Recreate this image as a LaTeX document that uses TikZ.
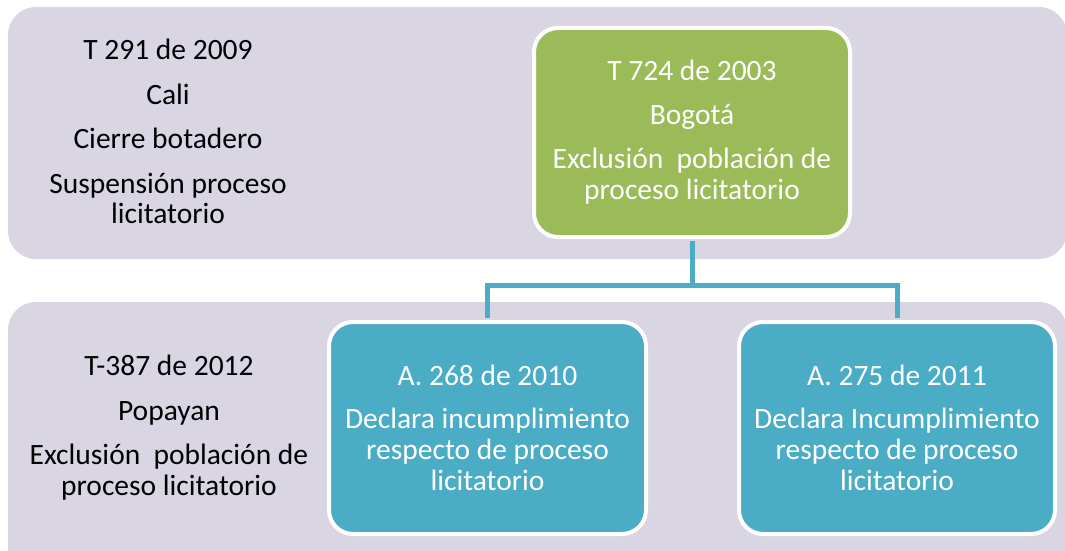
\documentclass[tikz,border=0pt]{standalone}
\usepackage{fontspec}
\setmainfont{Carlito}
\definecolor{bandgray}{HTML}{D9D5E3}
\definecolor{leaf}{HTML}{9BBB59}
\definecolor{sky}{HTML}{4BACC6}

\begin{document}
\begin{tikzpicture}[x=1pt, y=1pt,
  band/.style={fill=bandgray, rounded corners=28pt},
  box/.style={draw=white, line width=4pt, rounded corners=24pt, inner sep=0pt,
    minimum width=316pt, text=white, align=center, font=\fontsize{29.5}{31}\selectfont},
  note/.style={align=center, font=\fontsize{29.5}{30.5}\selectfont},
  link/.style={draw=sky, line width=5pt, shorten <=2pt, shorten >=2pt}]
  \useasboundingbox (0,0) rectangle (1065,550);
  % the two bands
  \fill[band] (8,291) rectangle (1067,543);
  \fill[band] (8,-30) rectangle (1067,248);
  % left notes
  \node[note] (cali) at (168,418.5) {T 291 de 2009\\[14pt] Cali\\[14pt] Cierre botadero\\[14pt] Suspensión proceso\\ licitatorio};
  \node[note] (popayan) at (169,122.5) {T-387 de 2012\\[14pt] Popayan\\[14pt] Exclusión\ \ población de\\ proceso licitatorio};
  % boxes
  \node[box, fill=leaf, minimum height=209pt] (bogota) at (692,417.5) {T 724 de 2003\\[13pt] Bogotá\\[13pt] Exclusión\ \ población de\\ proceso licitatorio};
  \node[box, fill=sky, minimum width=317pt, minimum height=212pt] (a268) at (487.5,122) {A. 268 de 2010\\[12pt] Declara incumplimiento\\ respecto de proceso\\ licitatorio};
  \node[box, fill=sky, minimum height=212pt] (a275) at (897,122) {A. 275 de 2011\\[12pt] Declara Incumplimiento\\ respecto de proceso\\ licitatorio};
  % connectors
  \draw[link] (bogota.south) -- ++(0,-46) -| (a268.north);
  \draw[link] (bogota.south) -- ++(0,-46) -| (a275.north);
\end{tikzpicture}
\end{document}
